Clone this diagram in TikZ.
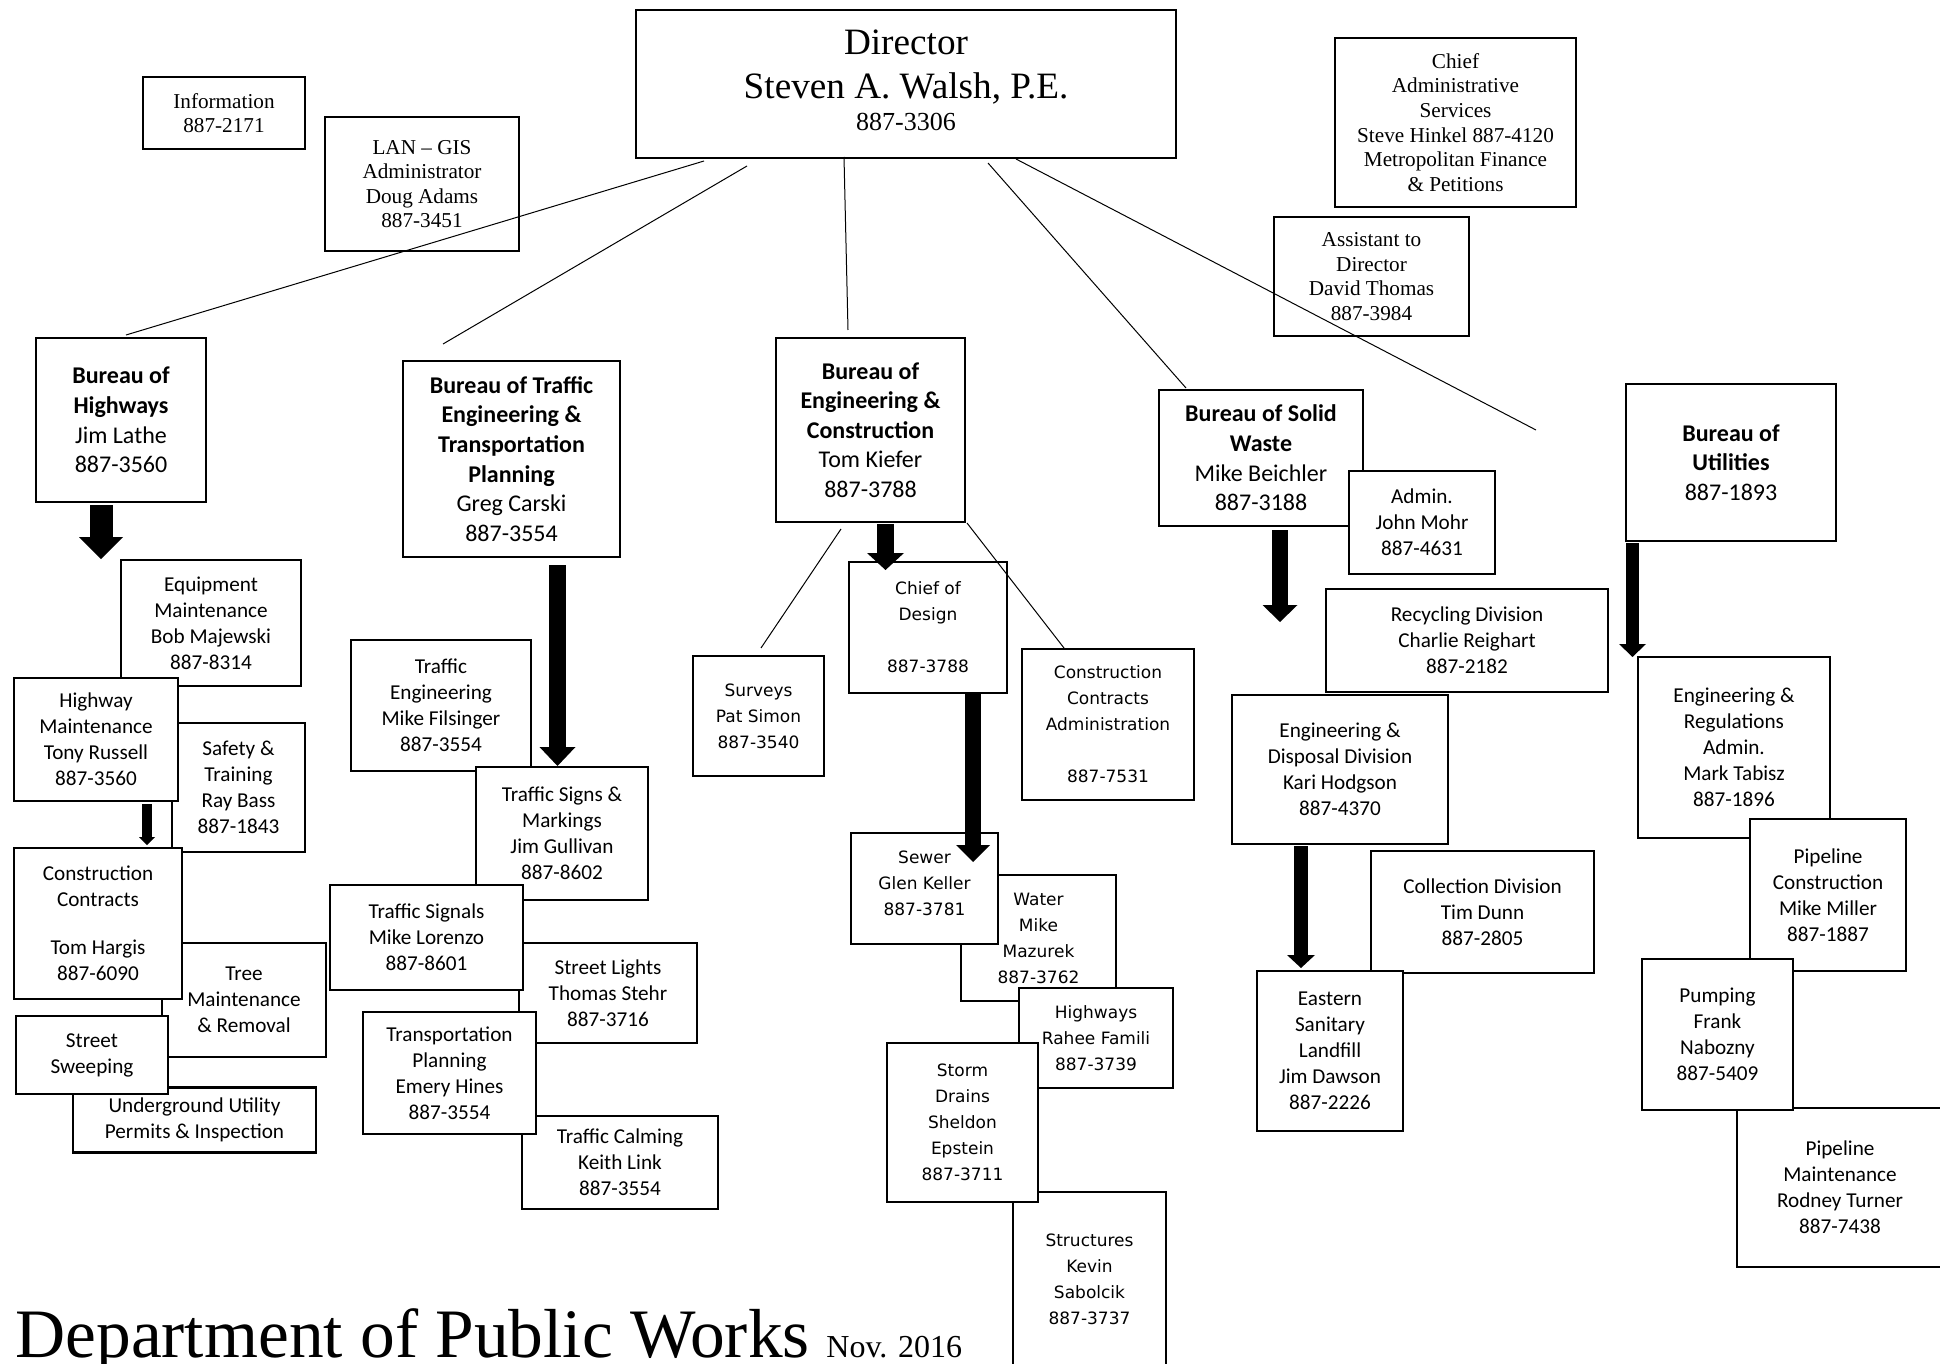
\documentclass[tikz,border=0pt]{standalone}
\usepackage{fontspec}
\setmainfont{Liberation Serif}
\newfontfamily\calfont{Carlito}
\newfontfamily\verdfont{DejaVu Sans}
\usetikzlibrary{arrows.meta}

\tikzset{
  box/.style={draw, line width=1.2pt, fill=white, align=center, inner sep=0pt},
  staffbox/.style={box, font=\fontsize{10.6}{12.3}\selectfont},
  unitbox/.style={box, font=\calfont\fontsize{10.6}{13}\selectfont},
  bureaubox/.style={box, font=\calfont\fontsize{12}{14.8}\selectfont},
  engbox/.style={box, font=\verdfont\fontsize{8.5}{13}\selectfont},
  conn/.style={line width=0.5pt},
  fatarrow/.style n args={3}{line width=#1, -{Triangle[width=#2, length=#3, line width=0pt]}}
}

\begin{document}
\begin{tikzpicture}[x=0.5pt, y=-0.5pt]
    \useasboundingbox (0,0) rectangle (1940,1364);

    % Director and staff
    \node[staffbox, minimum width=270pt, minimum height=73.75pt, font=\fontsize{18.6}{22}\selectfont] (dir) at (906,84)
        {Director\\Steven A. Walsh, P.E.\\[-6pt]{\fontsize{13}{16}\selectfont 887-3306\rule[-4pt]{0pt}{0pt}}};
    \node[staffbox, minimum width=81pt, minimum height=35.75pt] (info) at (224,113) {Information\\887-2171};
    \node[staffbox, minimum width=97pt, minimum height=67pt] (lan) at (422,184) {LAN – GIS\\Administrator\\Doug Adams\\887-3451};
    \node[staffbox, minimum width=120.5pt, minimum height=84.5pt] (cas) at (1455.5,122.5)
        {Chief\\Administrative\\Services\\Steve Hinkel 887-4120\\Metropolitan Finance\\\& Petitions};
    \node[staffbox, minimum width=97.5pt, minimum height=59.5pt] (asst) at (1371.5,276.5) {Assistant to\\Director\\David Thomas\\887-3984};

    % Lines from the director
    \coordinate (d1) at (704,161);  \coordinate (b1) at (126,335);
    \coordinate (d2) at (747,166);  \coordinate (b2) at (443,344);
    \coordinate (d3) at (844,157);  \coordinate (b3) at (848,330);
    \coordinate (d4) at (988,163);  \coordinate (b4) at (1186,388);
    \coordinate (d5) at (1016,159); \coordinate (b5) at (1536,430);
    \draw[conn] (d1) -- (b1);
    \draw[conn] (d2) -- (b2);
    \draw[conn] (d3) -- (b3);
    \draw[conn] (d4) -- (b4);
    \draw[conn] (d5) -- (b5);

    % Bureaus
    \node[bureaubox, minimum width=85pt, minimum height=82pt] (hwy) at (121,420)
        {\textbf{Bureau of}\\\textbf{Highways}\\Jim Lathe\\887-3560};
    \node[bureaubox, minimum width=108.5pt, minimum height=98pt] (traf) at (511.5,459)
        {\textbf{Bureau of Traffic}\\\textbf{Engineering \&}\\\textbf{Transportation}\\\textbf{Planning}\\Greg Carski\\887-3554};
    \node[bureaubox, minimum width=94.5pt, minimum height=92pt] (eng) at (870.5,430)
        {\textbf{Bureau of}\\\textbf{Engineering \&}\\\textbf{Construction}\\Tom Kiefer\\887-3788};
    \node[bureaubox, minimum width=102pt, minimum height=68pt] (sw) at (1261,458)
        {\textbf{Bureau of Solid}\\\textbf{Waste}\\Mike Beichler\\887-3188};
    \node[unitbox, minimum width=73pt, minimum height=51.5pt] (admin) at (1422,522.5) {Admin.\\John Mohr\\887-4631};
    \node[bureaubox, minimum width=105pt, minimum height=78.5pt] (util) at (1731,462.5)
        {\textbf{Bureau of}\\\textbf{Utilities}\\887-1893};

    % Highways
    \node[unitbox, minimum width=90pt, minimum height=63pt] (equip) at (211,623) {Equipment\\Maintenance\\Bob Majewski\\887-8314};
    \node[unitbox, minimum width=66.5pt, minimum height=64.5pt] (safety) at (238.5,787.5) {Safety \&\\Training\\Ray Bass\\887-1843};
    \node[unitbox, minimum width=82pt, minimum height=61.5pt] (hwmaint) at (96,739.5) {Highway\\Maintenance\\Tony Russell\\887-3560};
    \node[unitbox, minimum width=82pt, minimum height=57pt] (tree) at (244,1000) {Tree\\Maintenance\\\& Removal};
    \node[unitbox, minimum width=84pt, minimum height=75.5pt] (constr) at (98,923.5) {Construction\\Contracts\\[11pt]Tom Hargis\\887-6090};
    \node[unitbox, minimum width=121.5pt, minimum height=32.5pt] (underg) at (194.5,1120) {Underground Utility\\Permits \& Inspection};
    \node[unitbox, minimum width=76pt, minimum height=39pt] (sweep) at (92,1055) {Street\\Sweeping};

    % Traffic
    \node[unitbox, minimum width=90pt, minimum height=65.5pt] (teng) at (441,705.5) {Traffic\\Engineering\\Mike Filsinger\\887-3554};
    \node[unitbox, minimum width=86pt, minimum height=66.5pt] (signs) at (562,833.5) {Traffic Signs \&\\Markings\\Jim Gullivan\\887-8602};
    \node[unitbox, minimum width=89pt, minimum height=50pt] (lights) at (608,993) {Street Lights\\Thomas Stehr\\887-3716};
    \node[unitbox, minimum width=98pt, minimum height=46.5pt] (calming) at (620,1162.5) {Traffic Calming\\Keith Link\\887-3554};
    \node[unitbox, minimum width=96.5pt, minimum height=52.5pt] (signals) at (426.5,937.5) {Traffic Signals\\Mike Lorenzo\\887-8601};
    \node[unitbox, minimum width=86.5pt, minimum height=61pt] (transp) at (449.5,1073) {Transportation\\Planning\\Emery Hines\\887-3554};

    % Engineering
    \node[engbox, minimum width=79pt, minimum height=65.5pt] (design) at (928,627.5) {Chief of\\Design\\[13pt]887-3788};
    \node[engbox, minimum width=65.5pt, minimum height=60pt] (surveys) at (758.5,716) {Surveys\\Pat Simon\\887-3540};
    \node[engbox, minimum width=86pt, minimum height=75.5pt] (cca) at (1108,724.5) {Construction\\Contracts\\Administration\\[13pt]887-7531};
    \node[engbox, minimum width=77.5pt, minimum height=63pt] (water) at (1038.5,938) {Water\\Mike\\Mazurek\\887-3762};
    \node[engbox, minimum width=73.5pt, minimum height=55.5pt] (sewer) at (924.5,888.5) {Sewer\\Glen Keller\\887-3781\rule[-5pt]{0pt}{0pt}};
    \node[engbox, minimum width=77pt, minimum height=50pt] (hwys) at (1096,1038) {Highways\\Rahee Famili\\887-3739};
    \node[engbox, minimum width=76.5pt, minimum height=87pt] (struct) at (1089.5,1279) {Structures\\Kevin\\Sabolcik\\887-3737};
    \node[engbox, minimum width=75.5pt, minimum height=79.5pt] (storm) at (962.5,1122.5) {Storm\\Drains\\Sheldon\\Epstein\\887-3711};

    \coordinate (e1) at (841,529); \coordinate (s1) at (761,648);
    \coordinate (e2) at (967,523); \coordinate (s2) at (1064,648);
    \draw[conn] (e1) -- (s1);
    \draw[conn] (e2) -- (s2);

    % Solid waste
    \node[unitbox, minimum width=141pt, minimum height=51.5pt] (recyc) at (1467,640.5) {Recycling Division\\Charlie Reighart\\887-2182};
    \node[unitbox, minimum width=108pt, minimum height=74.5pt] (engdisp) at (1340,769.5) {Engineering \&\\Disposal Division\\Kari Hodgson\\887-4370};
    \node[unitbox, minimum width=111.5pt, minimum height=61pt] (collect) at (1482.5,912) {Collection Division\\Tim Dunn\\887-2805};
    \node[unitbox, minimum width=73pt, minimum height=80pt] (eastern) at (1330,1051) {Eastern\\Sanitary\\Landfill\\Jim Dawson\\887-2226};

    % Utilities
    \node[unitbox, minimum width=96pt, minimum height=90.5pt] (engreg) at (1734,747.5) {Engineering \&\\Regulations\\Admin.\\Mark Tabisz\\887-1896};
    \node[unitbox, minimum width=78pt, minimum height=76pt] (pipecon) at (1828,895) {Pipeline\\Construction\\Mike Miller\\887-1887};
    \node[unitbox, minimum width=103pt, minimum height=79.5pt] (pipemaint) at (1840,1187.5) {Pipeline\\Maintenance\\Rodney Turner\\887-7438};
    \node[unitbox, minimum width=75.5pt, minimum height=75.5pt] (pumping) at (1717.5,1034.5) {Pumping\\Frank\\Nabozny\\887-5409};

    % Arrows
    \coordinate (a1) at (101,505);    \coordinate (t1) at (101,559);
    \coordinate (a2) at (557.5,565);  \coordinate (t2) at (557.5,766);
    \coordinate (a3) at (885.5,524);  \coordinate (t3) at (885.5,570);
    \coordinate (a4) at (973,693);    \coordinate (t4) at (973,862);
    \coordinate (a5) at (1280,530);   \coordinate (t5) at (1280,622);
    \coordinate (a6) at (1301,846);   \coordinate (t6) at (1301,968);
    \coordinate (a7) at (1632.5,543); \coordinate (t7) at (1632.5,657);
    \coordinate (a8) at (147,804);    \coordinate (t8) at (147,845);
    \draw[fatarrow={11.5pt}{22pt}{11pt}] (a1) -- (t1);
    \draw[fatarrow={8.5pt}{18pt}{9.5pt}] (a2) -- (t2);
    \draw[fatarrow={8.5pt}{18.5pt}{8.5pt}] (a3) -- (t3);
    \draw[fatarrow={8pt}{17pt}{8.5pt}] (a4) -- (t4);
    \draw[fatarrow={8pt}{17.5pt}{8.5pt}] (a5) -- (t5);
    \draw[fatarrow={7pt}{14pt}{6.5pt}] (a6) -- (t6);
    \draw[fatarrow={6.5pt}{13.5pt}{6.5pt}] (a7) -- (t7);
    \draw[fatarrow={5pt}{8pt}{4pt}] (a8) -- (t8);

    % Title
    \node[anchor=base west, inner sep=0pt, font=\fontsize{34.7}{40}\selectfont] (title) at (15,1357) {Department of Public Works};
    \node[anchor=base west, inner sep=0pt, font=\fontsize{16}{18}\selectfont] (date) at (826,1357) {Nov. 2016};

\end{tikzpicture}
\end{document}
